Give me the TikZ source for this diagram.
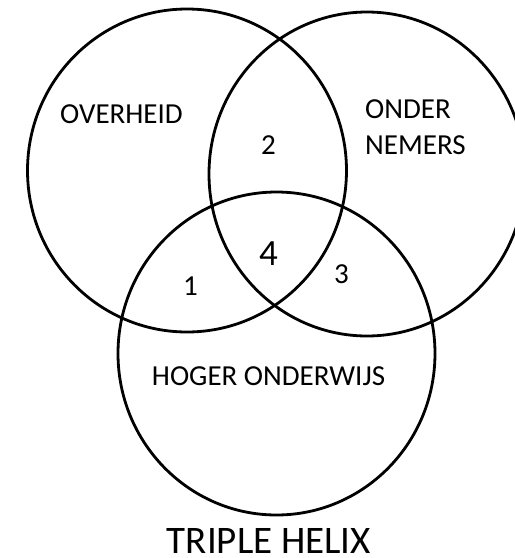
\documentclass[tikz,border=0pt]{standalone}
\usepackage{fontspec}
\setmainfont{Carlito}
\begin{document}
\begin{tikzpicture}[x=1pt,y=-1pt,
  ring/.style={draw=black,line width=2.8pt},
  lbl/.style={inner sep=0pt,anchor=base,font=\fontsize{29}{34}\selectfont},
  lblw/.style={inner sep=0pt,anchor=base west,font=\fontsize{29}{34}\selectfont}]
\useasboundingbox (0,0) rectangle (515,558);
\begin{scope}
\clip (0,0) rectangle (515,558);
\draw[ring] (187,170.5) ellipse [x radius=159.5, y radius=161.5];
\draw[ring] (367,174) ellipse [x radius=158, y radius=162];
\draw[ring] (276.5,353.5) ellipse [x radius=158.5, y radius=161.5];
\end{scope}
\node[lbl] (gov) at (121.5,123) {OVERHEID};
\node[lblw] (ond1) at (365,118) {ONDER};
\node[lblw] (ond2) at (365,154) {NEMERS};
\node[lbl] (two) at (268.5,154) {2};
\node[lbl,font=\fontsize{37}{44}\selectfont] (four) at (268.5,265) {4};
\node[lbl] (three) at (341.5,283) {3};
\node[lbl] (one) at (190.5,295) {1};
\node[lbl] (ho) at (268.5,385) {HOGER ONDERWIJS};
\node[lbl,font=\fontsize{39}{46}\selectfont] (title) at (269,553.5) {TRIPLE HELIX};
\end{tikzpicture}
\end{document}
